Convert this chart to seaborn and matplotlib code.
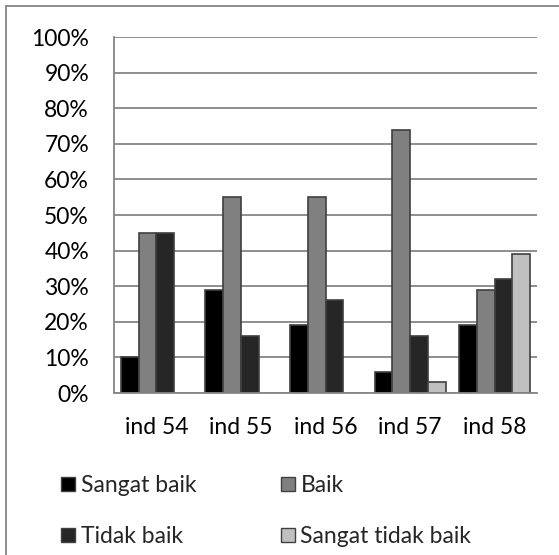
import numpy as np
import pandas as pd
import seaborn as sns
import matplotlib
matplotlib.use("Agg")
import matplotlib.pyplot as plt
from matplotlib.lines import Line2D
from matplotlib.patches import Patch

categories = ["ind 54", "ind 55", "ind 56", "ind 57", "ind 58"]
series_names = ["Sangat baik", "Baik", "Tidak baik", "Sangat tidak baik"]
sangat_baik = [10, 29, 19, 6, 19]
baik = [45, 55, 55, 74, 29]
tidak_baik = [45, 16, 26, 16, 32]
sangat_tidak_baik = [np.nan, np.nan, np.nan, 3, 39]
y_ticks = [0, 10, 20, 30, 40, 50, 60, 70, 80, 90, 100]
y_tick_labels = [f"{v}%" for v in y_ticks]

colors = ["#000000", "#808080", "#262626", "#c0c0c0"]

rows = []
for name, vals in zip(series_names, [sangat_baik, baik, tidak_baik, sangat_tidak_baik]):
    for c, v in zip(categories, vals):
        rows.append({"category": c, "series": name, "value": v})
df = pd.DataFrame(rows)

sns.set_theme(style="white")
plt.rcParams["font.family"] = ["Lato", "DejaVu Sans"]

fig = plt.figure(figsize=(5.59, 5.55), dpi=100)
ax = fig.add_axes([114 / 559, 1 - 393 / 555, (537 - 114) / 559, (393 - 37) / 555])

sns.barplot(data=df, x="category", y="value", hue="series", order=categories,
            hue_order=series_names, palette=colors, width=0.84, ax=ax,
            edgecolor="#404040", linewidth=1.2, legend=False, errorbar=None,
            saturation=1)

ax.set_ylim(0, 100)
ax.set_xlim(-0.5, len(categories) - 0.5)
ax.set_yticks(y_ticks)
ax.set_yticklabels(y_tick_labels)
ax.set_xlabel("")
ax.set_ylabel("")
ax.yaxis.grid(True, color="#868686", linewidth=1.3)
ax.set_axisbelow(True)
for s in ["top", "right"]:
    ax.spines[s].set_visible(False)
for s in ["left", "bottom"]:
    ax.spines[s].set_color("#868686")
    ax.spines[s].set_linewidth(1.3)
ax.tick_params(axis="y", length=2, color="#868686", pad=16, labelsize=16.5, labelcolor="black")
ax.tick_params(axis="x", length=0, pad=17, labelsize=16.5, labelcolor="black")

# legend is filled column by column: reorder so rows read (Sangat baik, Baik), (Tidak baik, Sangat tidak baik)
order = [0, 2, 1, 3]
handles = [Patch(facecolor=colors[i], edgecolor="#404040", linewidth=1.0) for i in order]
labels = [series_names[i] for i in order]
fig.legend(handles, labels, loc="upper left", bbox_to_anchor=(52 / 559, 1 - 466 / 555),
           ncol=2, frameon=False, fontsize=16.5, handlelength=0.6, handleheight=0.6,
           handletextpad=0.25, columnspacing=3.7, labelspacing=1.3, borderaxespad=0)

# outer chart frame (top and left visible)
fig.add_artist(Line2D([6 / 559, 1.0], [1 - 6 / 555, 1 - 6 / 555], color="#868686", linewidth=1.3,
                      transform=fig.transFigure))
fig.add_artist(Line2D([6 / 559, 6 / 559], [0.0, 1 - 6 / 555], color="#868686", linewidth=1.3,
                      transform=fig.transFigure))

fig.savefig("out.png", dpi=100, facecolor="white")
